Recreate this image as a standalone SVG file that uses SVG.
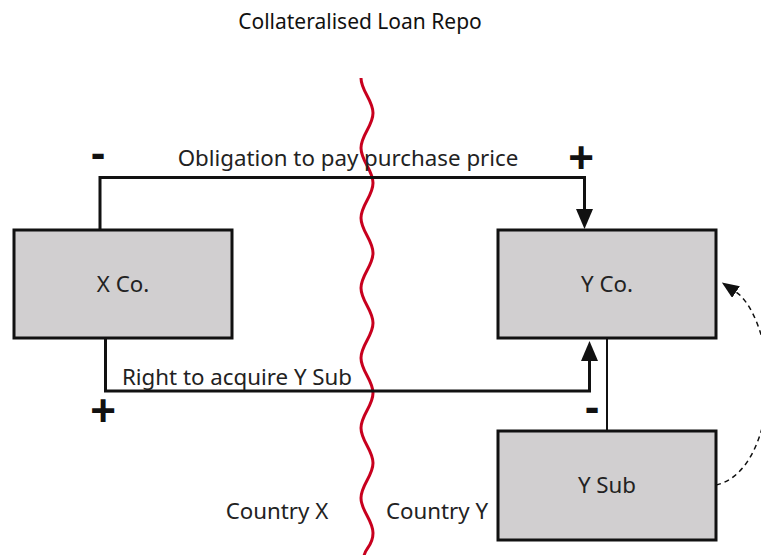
<svg xmlns="http://www.w3.org/2000/svg" width="761" height="555" viewBox="0 0 761 555">
  <style>
    .box { fill: #d1cfd0; stroke: #111; stroke-width: 3; }
    .lbl { font-family: "Noto Sans", "Open Sans", sans-serif; font-size: 22.3px; fill: #222; }
    .sign { font-family: "Liberation Sans", Arial, sans-serif; font-size: 44px; font-weight: bold; fill: #111; text-anchor: middle; }
    .flow { fill: none; stroke: #111; stroke-width: 3; }
    .link { fill: none; stroke: #111; stroke-width: 2; }
    .loop { fill: none; stroke: #111; stroke-width: 1.5; stroke-dasharray: 5 4; }
    .border { fill: none; stroke: #c8001e; stroke-width: 3; }
  </style>
  <defs>
    <marker id="arrow" markerUnits="userSpaceOnUse" markerWidth="20" markerHeight="18" refX="2" refY="8.5" orient="auto">
      <path d="M0,0 L20,8.5 L0,17 z" fill="#111"/>
    </marker>
    <marker id="arrow-small" markerUnits="userSpaceOnUse" markerWidth="18" markerHeight="15" refX="0" refY="7" orient="auto">
      <path d="M0,0 L17,7 L0,14 z" fill="#111"/>
    </marker>
  </defs>

  <rect width="761" height="555" fill="#fff"/>

  <!-- Title -->
  <text class="lbl" x="360" y="29" text-anchor="middle" style="fill:#111;font-size:21px">Collateralised Loan Repo</text>

  <!-- Border between the two countries -->
  <path class="border" d="M361,78 C361,91 373,100 373,113 S361,135 361,148 S373,170 373,183 S361,205 361,218 S373,240 373,253 S361,275 361,288 S373,310 373,323 S361,345 361,358 S373,380 373,393 S361,415 361,428 S373,450 373,463 S361,485 361,498 S373,520 373,533 S365,548 364,556"/>

  <text class="lbl" x="277" y="519" text-anchor="middle">Country X</text>
  <text class="lbl" x="437" y="519" text-anchor="middle">Country Y</text>

  <!-- Connectors -->
  <g id="connectors">
    <path class="flow" d="M100,230 V177.5 H584.5 V211" marker-end="url(#arrow)"/>
    <path class="flow" d="M105.5,338 V391 H589.5 V359" marker-end="url(#arrow)"/>
    <path class="link" d="M607,338 V431"/>
    <path class="loop" d="M716,485 C760,475 775,400 765,350 C759,322 748,300 736,292" marker-end="url(#arrow-small)"/>
    <text class="lbl" x="348" y="166" text-anchor="middle">Obligation to pay purchase price</text>
    <text class="lbl" x="122" y="385">Right to acquire Y Sub</text>
    <text class="sign" x="98" y="168">-</text>
    <text class="sign" x="581" y="173">+</text>
    <text class="sign" x="103" y="426">+</text>
    <text class="sign" x="592" y="422">-</text>
  </g>

  <!-- Nodes -->
  <g id="x-co">
    <rect class="box" x="14" y="230" width="218" height="108"/>
    <text class="lbl" x="123" y="292" text-anchor="middle">X Co.</text>
  </g>
  <g id="y-co">
    <rect class="box" x="498" y="230" width="218" height="108"/>
    <text class="lbl" x="607" y="292" text-anchor="middle">Y Co.</text>
  </g>
  <g id="y-sub">
    <rect class="box" x="498" y="431" width="218" height="109"/>
    <text class="lbl" x="607" y="493" text-anchor="middle">Y Sub</text>
  </g>
</svg>
